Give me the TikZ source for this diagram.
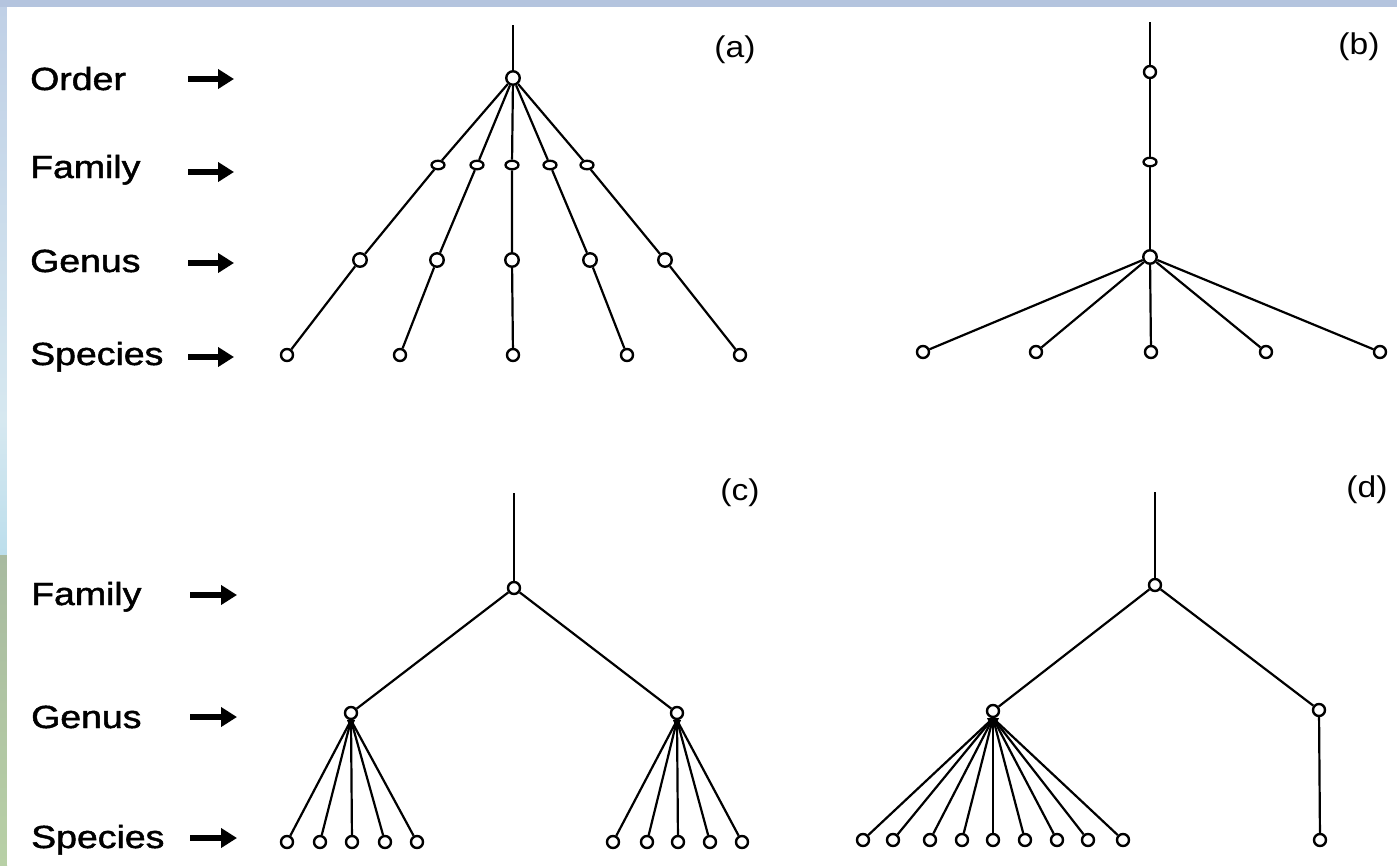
\documentclass[tikz,border=0pt]{standalone}
\usepackage{fontspec}
\setmainfont{Liberation Sans}
\newfontfamily\labelfont[FakeBold=1.4]{Liberation Sans}
\usetikzlibrary{shapes.geometric,arrows.meta,backgrounds}
\pgfdeclarelayer{bgcolor}
\pgfsetlayers{bgcolor,background,main}
\definecolor{stripblue}{RGB}{180,196,222}
\definecolor{stripA}{RGB}{192,208,230}
\definecolor{stripB}{RGB}{214,232,240}
\definecolor{stripC}{RGB}{188,222,236}
\definecolor{stripD}{RGB}{168,186,160}
\definecolor{stripE}{RGB}{184,208,166}
\begin{document}
\begin{tikzpicture}[x=1pt,y=-1pt,
  dot/.style={circle,draw,fill=white,inner sep=0pt,minimum size=12pt,line width=2.4pt},
  bigdot/.style={dot,minimum size=13.5pt},
  famdot/.style={ellipse,draw,fill=white,inner sep=0pt,minimum width=13pt,minimum height=8.5pt,line width=2.3pt},
  edge/.style={line width=2.2pt},
  rowlabel/.style={anchor=base west,inner sep=0pt,font=\labelfont\fontsize{32}{38}\selectfont},
  panel/.style={inner sep=0pt,font=\fontsize{30}{36}\selectfont},
  levelarrow/.style={line width=6pt,-{Triangle[length=16pt,width=19pt]}}
]
\useasboundingbox (0,0) rectangle (1397,865);
\begin{pgfonlayer}{bgcolor}
  \fill[stripblue] (0,0) rectangle (1397,7);
  \shade[top color=stripA,bottom color=stripB] (0,7) rectangle (7,420);
  \shade[top color=stripB,bottom color=stripC] (0,420) rectangle (7,555);
  \shade[top color=stripD,bottom color=stripE] (0,555) rectangle (7,865);
  \fill[white] (7,7) rectangle (1397,865);
\end{pgfonlayer}

% ---------- row labels, upper ----------
\node[rowlabel] (lOrder) at (30,90) {\scalebox{1.17}[1]{Order}};
\node[rowlabel] (lFam1) at (30,178) {\scalebox{1.17}[1]{Family}};
\node[rowlabel] (lGen1) at (30,272) {\scalebox{1.17}[1]{Genus}};
\node[rowlabel] (lSpe1) at (30,365) {\scalebox{1.17}[1]{Species}};
\coordinate (ar1s) at (188,79);  \coordinate (ar1e) at (234,79);
\coordinate (ar2s) at (188,172); \coordinate (ar2e) at (234,172);
\coordinate (ar3s) at (188,263); \coordinate (ar3e) at (234,263);
\coordinate (ar4s) at (188,357); \coordinate (ar4e) at (234,357);
\foreach \i in {1,...,4} \draw[levelarrow] (ar\i s) -- (ar\i e);

% ---------- row labels, lower ----------
\node[rowlabel] (lFam2) at (31,605) {\scalebox{1.17}[1]{Family}};
\node[rowlabel] (lGen2) at (31,728) {\scalebox{1.17}[1]{Genus}};
\node[rowlabel] (lSpe2) at (31,848) {\scalebox{1.17}[1]{Species}};
\coordinate (br1s) at (190,595); \coordinate (br1e) at (237,595);
\coordinate (br2s) at (190,717); \coordinate (br2e) at (237,717);
\coordinate (br3s) at (190,838); \coordinate (br3e) at (237,838);
\foreach \i in {1,...,3} \draw[levelarrow] (br\i s) -- (br\i e);

% ---------- panel labels ----------
\node[panel] (pa) at (735,50) {\scalebox{1.12}[1]{(a)}};
\node[panel] (pb) at (1359,47) {\scalebox{1.12}[1]{(b)}};
\node[panel] (pc) at (740,493) {\scalebox{1.12}[1]{(c)}};
\node[panel] (pd) at (1367,490) {\scalebox{1.12}[1]{(d)}};

% ---------- tree (a) ----------
\coordinate (atop) at (513,25);
\node[bigdot] (a0) at (513,78) {};
\foreach \x [count=\i] in {438,477,512,550,587} \node[famdot] (af\i) at (\x,165) {};
\foreach \x [count=\i] in {360,437,512,590,665} \node[bigdot] (ag\i) at (\x,260) {};
\foreach \x [count=\i] in {287,400,513,627,740} \node[dot] (as\i) at (\x,355) {};
\begin{pgfonlayer}{background}
  \draw[edge] (atop) -- (a0);
  \foreach \i in {1,...,5} \draw[edge] (a0) -- (af\i) -- (ag\i) -- (as\i);
\end{pgfonlayer}

% ---------- tree (b) ----------
\coordinate (btop) at (1150,22);
\node[dot] (b1) at (1150,72) {};
\node[famdot] (b2) at (1150,162) {};
\node[bigdot] (b3) at (1150,257) {};
\foreach \x [count=\i] in {923,1036,1151,1266,1380} \node[dot] (bs\i) at (\x,352) {};
\begin{pgfonlayer}{background}
  \draw[edge] (btop) -- (b1) -- (b2) -- (b3);
  \foreach \i in {1,...,5} \draw[edge] (b3) -- (bs\i);
\end{pgfonlayer}

% ---------- tree (c) ----------
\coordinate (ctop) at (514,493);
\node[dot] (c0) at (514,588) {};
\node[dot] (cg1) at (351,713) {};
\node[dot] (cg2) at (677,713) {};
\foreach \x [count=\i] in {287,320,352,385,417} \node[dot] (csa\i) at (\x,842) {};
\foreach \x [count=\i] in {613,647,678,710,742} \node[dot] (csb\i) at (\x,842) {};
\fill ([xshift=-4pt]cg1.south) -- ([xshift=4pt]cg1.south) -- ([yshift=-9pt]cg1.south) -- cycle;
\fill ([xshift=-4pt]cg2.south) -- ([xshift=4pt]cg2.south) -- ([yshift=-9pt]cg2.south) -- cycle;
\begin{pgfonlayer}{background}
  \draw[edge] (ctop) -- (c0);
  \draw[edge] (c0) -- (cg1);
  \draw[edge] (c0) -- (cg2);
  \foreach \i in {1,...,5} \draw[edge] (cg1.south) -- (csa\i);
  \foreach \i in {1,...,5} \draw[edge] (cg2.south) -- (csb\i);
\end{pgfonlayer}

% ---------- tree (d) ----------
\coordinate (dtop) at (1155,492);
\node[dot] (d0) at (1155,585) {};
\node[dot] (dg1) at (993,711) {};
\node[dot] (dg2) at (1319,710) {};
\foreach \x [count=\i] in {863,893,930,962,993,1025,1057,1088,1123} \node[dot] (dsa\i) at (\x,840) {};
\node[dot] (dsb1) at (1320,840) {};
\fill ([xshift=-6pt]dg1.south) -- ([xshift=6pt]dg1.south) -- ([yshift=-12pt]dg1.south) -- cycle;
\begin{pgfonlayer}{background}
  \draw[edge] (dtop) -- (d0);
  \draw[edge] (d0) -- (dg1);
  \draw[edge] (d0) -- (dg2);
  \foreach \i in {1,...,9} \draw[edge] (dg1.south) -- (dsa\i);
  \draw[edge] (dg2) -- (dsb1);
\end{pgfonlayer}
\end{tikzpicture}
\end{document}
